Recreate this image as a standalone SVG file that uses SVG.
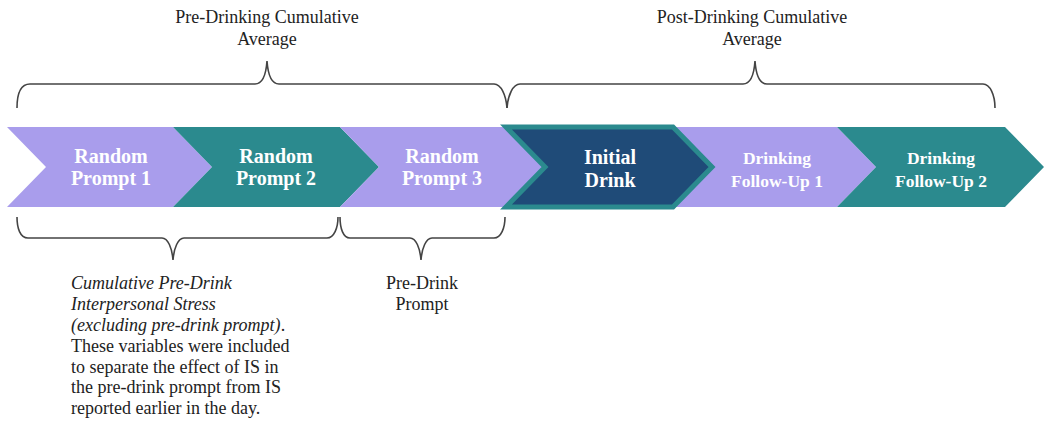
<svg xmlns="http://www.w3.org/2000/svg" width="1050" height="428" viewBox="0 0 1050 428">
<style>
.purple{fill:#A99DEC}
.teal{fill:#2B8A8E}
.navy{fill:#1F4B78;stroke:#2B8A8E;stroke-width:5;stroke-linejoin:miter}
.lbl{font-family:"Liberation Serif","Times New Roman",serif;font-weight:bold;fill:#ffffff;text-anchor:middle}
.big{font-size:20px}
.small{font-size:17.5px}
.note{font-family:"Liberation Serif","Times New Roman",serif;font-size:18px;fill:#222222}
.brace{fill:none;stroke:#444444;stroke-width:1.6}
</style>
<rect width="1050" height="428" fill="#ffffff"/>
<g id="rp1">
<polygon class="purple" points="7,127 173,127 212,167 173,207 7,207 46,167"/>
<text class="lbl big" x="111" y="163">Random</text>
<text class="lbl big" x="111" y="185">Prompt 1</text>
</g>
<g id="rp2">
<polygon class="teal" points="173,127 340,127 379,167 340,207 173,207 212,167"/>
<text class="lbl big" x="276" y="163">Random</text>
<text class="lbl big" x="276" y="185">Prompt 2</text>
</g>
<g id="rp3">
<polygon class="purple" points="340,127 505,127 544,167 505,207 340,207 379,167"/>
<text class="lbl big" x="442" y="163">Random</text>
<text class="lbl big" x="442" y="185">Prompt 3</text>
</g>
<g id="fu1">
<polygon class="purple" points="673,127 837,127 876,167 837,207 673,207 712,167"/>
<text class="lbl small" x="777" y="164">Drinking</text>
<text class="lbl small" x="777" y="187">Follow-Up 1</text>
</g>
<g id="fu2">
<polygon class="teal" points="837,127 1005,127 1044,167 1005,207 837,207 876,167"/>
<text class="lbl small" x="941" y="164">Drinking</text>
<text class="lbl small" x="941" y="187">Follow-Up 2</text>
</g>
<g id="initial">
<polygon class="navy" points="506,127 673,127 712,167 673,207 506,207 545,167"/>
<text class="lbl big" x="610" y="164">Initial</text>
<text class="lbl big" x="610" y="187">Drink</text>
</g>
<g id="connectors">
<path class="brace" d="M17,108 C17,95 20,84 30,84 L255,84 C262,84 266,75 267,61 C268,75 272,84 279,84 L494,84 C501,84 506,95 507,108"/>
<path class="brace" d="M507,108 C508,95 513,84 520,84 L743,84 C750,84 754,75 755,61 C756,75 760,84 767,84 L983,84 C990,84 995,95 995,108"/>
<path class="brace" d="M17,217 C17,228 20,238 28,238 L162,238 C168,238 172,248 173,260 C174,248 178,238 184,238 L327,238 C334,238 338,228 338,217"/>
<path class="brace" d="M340,217 C340,228 343,238 350,238 L410,238 C416,238 420,248 421,260 C422,248 426,238 432,238 L494,238 C501,238 505,228 505,217"/>
</g>
<g id="pre-label">
<text class="note" x="267" y="23" text-anchor="middle">Pre-Drinking Cumulative</text>
<text class="note" x="267" y="45" text-anchor="middle">Average</text>
</g>
<g id="post-label">
<text class="note" x="752" y="23" text-anchor="middle">Post-Drinking Cumulative</text>
<text class="note" x="752" y="45" text-anchor="middle">Average</text>
</g>
<g id="cumulative-note">
<text class="note" x="71" y="289" font-style="italic">Cumulative Pre-Drink</text>
<text class="note" x="71" y="310" font-style="italic">Interpersonal Stress</text>
<text class="note" x="71" y="331"><tspan font-style="italic">(excluding pre-drink prompt)</tspan>.</text>
<text class="note" x="71" y="352">These variables were included</text>
<text class="note" x="71" y="373">to separate the effect of IS in</text>
<text class="note" x="71" y="393">the pre-drink prompt from IS</text>
<text class="note" x="71" y="414">reported earlier in the day.</text>
</g>
<g id="predrink-label">
<text class="note" x="422" y="289" text-anchor="middle">Pre-Drink</text>
<text class="note" x="422" y="310" text-anchor="middle">Prompt</text>
</g>
</svg>
